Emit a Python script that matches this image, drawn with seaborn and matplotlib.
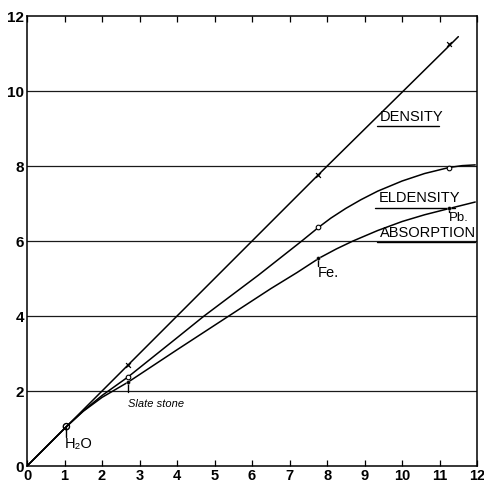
import matplotlib
matplotlib.use("Agg")
import matplotlib.pyplot as plt
import seaborn as sns
import pandas as pd

# Density (x) against the three measured properties
density_x = [0.0, 1.05, 2.7, 7.75, 11.25, 11.5]
density_y = [0.0, 1.05, 2.7, 7.75, 11.2, 11.45]

eldensity_x = [0.0, 1.05, 1.5, 2.0, 2.7, 4.0, 4.72, 6.17, 7.3, 7.78,
               8.1, 8.5, 8.9, 9.35, 10.0, 10.6, 11.25, 11.6, 11.95]
eldensity_y = [0.0, 1.05, 1.47, 1.88, 2.38, 3.42, 4.0, 5.09, 5.98, 6.37,
               6.61, 6.87, 7.1, 7.33, 7.6, 7.8, 7.96, 8.01, 8.03]

absorption_x = [0.0, 1.05, 1.5, 2.0, 2.7, 4.0, 5.38, 6.5, 7.2, 7.8,
                8.25, 8.69, 9.35, 10.0, 10.6, 11.27, 11.95]
absorption_y = [0.0, 1.05, 1.46, 1.83, 2.24, 3.1, 4.0, 4.73, 5.16, 5.55,
                5.79, 6.0, 6.28, 6.52, 6.7, 6.87, 7.04]

# Measured substances
materials = ["H₂O", "Slate stone", "Fe.", "Pb."]
mat_density = [1.05, 2.7, 7.75, 11.25]
mat_eldensity = [1.05, 2.38, 6.37, 7.96]
mat_absorption = [1.05, 2.24, 5.55, 6.87]

x_ticks = list(range(0, 13))
y_ticks = list(range(0, 13, 2))

sns.set_theme(style="white")
plt.rcParams["font.family"] = ["Liberation Sans", "DejaVu Sans"]

fig = plt.figure(figsize=(4.85, 4.87), dpi=100)
ax = fig.add_axes([0.0557, 0.0431, 0.928, 0.924])

lines = pd.concat([
    pd.DataFrame({"x": density_x, "y": density_y, "series": "DENSITY"}),
    pd.DataFrame({"x": eldensity_x, "y": eldensity_y, "series": "ELDENSITY"}),
    pd.DataFrame({"x": absorption_x, "y": absorption_y, "series": "ABSORPTION"}),
])
sns.lineplot(data=lines, x="x", y="y", units="series", estimator=None,
             sort=False, color="black", linewidth=1.1, ax=ax, legend=False)

# markers on the measured substances (water drawn as a ring)
sns.scatterplot(x=mat_density[1:], y=mat_density[1:], marker="x", s=12,
                color="black", linewidth=0.9, ax=ax, legend=False, zorder=4)
sns.scatterplot(x=mat_density[1:], y=mat_eldensity[1:], marker="o", s=11,
                facecolor="white", edgecolor="black", linewidth=0.8, ax=ax,
                legend=False, zorder=4)
sns.scatterplot(x=mat_density[1:], y=mat_absorption[1:], marker="o", s=8,
                color="black", ax=ax, legend=False, zorder=4)
sns.scatterplot(x=mat_density[:1], y=mat_absorption[:1], marker="o", s=20,
                facecolor="none", edgecolor="black", linewidth=1.0, ax=ax,
                legend=False, zorder=4)

# pointers from the absorption points down to the substance names
drops = [0.27, 0.26, 0.22, 0.1]
for xv, yv, d in zip(mat_density, mat_absorption, drops):
    ax.plot([xv, xv], [yv, yv - d], color="black", linewidth=1.0)

txt = dict(color="black")
ax.text(1.0, 0.77, "H₂O", fontsize=10.5, va="top", ha="left", **txt)
ax.text(2.68, 1.78, "Slate stone", fontsize=8, va="top", ha="left",
        style="italic", **txt)
ax.text(7.76, 5.34, "Fe.", fontsize=10.5, va="top", ha="left", **txt)
ax.text(11.24, 6.78, "Pb.", fontsize=9.5, va="top", ha="left", **txt)

# series names, underlined
series_labels = [("DENSITY", 9.4, 9.07, 10.98), ("ELDENSITY", 9.37, 6.89, 11.42),
                 ("ABSORPTION", 9.4, 5.97, 11.94)]
for label, x0, yb, x1 in series_labels:
    ax.text(x0, yb + 0.06, label, fontsize=10.5, ha="left", va="bottom", **txt)
    ax.plot([x0 - 0.08, x1], [yb, yb], color="black", linewidth=1.0)

ax.set_xlim(0, 12)
ax.set_ylim(0, 12)
ax.set_xticks(x_ticks)
ax.set_yticks(y_ticks)
ax.set_xticklabels([str(t) for t in x_ticks], fontsize=10.5, fontweight="bold")
ax.set_yticklabels([str(t) for t in y_ticks], fontsize=11, fontweight="bold")
ax.set_xlabel("")
ax.set_ylabel("")
for t in y_ticks[1:-1]:
    ax.axhline(t, color="#1a1a1a", linewidth=0.9, zorder=0.5)
ax.tick_params(axis="x", direction="in", top=True, bottom=True, length=4,
               width=0.9, color="black", pad=2, labelcolor="black")
ax.tick_params(axis="y", length=0, pad=2, labelcolor="black")
for sp in ax.spines.values():
    sp.set_visible(True)
    sp.set_color("black")
    sp.set_linewidth(1.1)

fig.savefig("out.png", dpi=100, facecolor="white")
